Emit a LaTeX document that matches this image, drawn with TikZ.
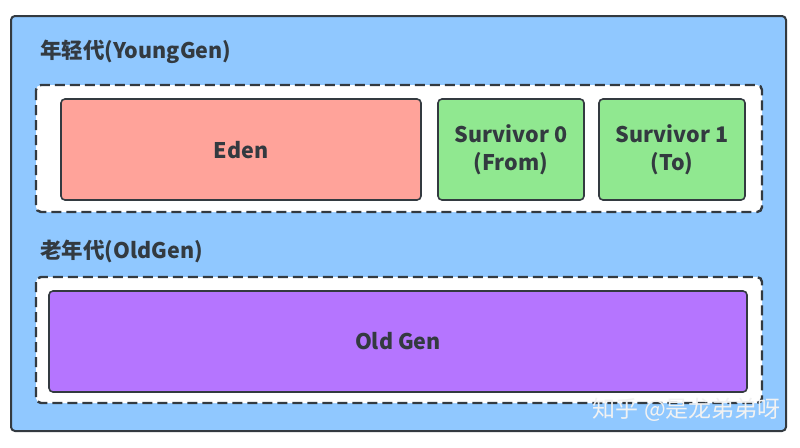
\documentclass[tikz,border=0pt]{standalone}
\usepackage{fontspec}
\setmainfont{Noto Sans CJK SC}
\definecolor{heapblue}{HTML}{90C8FF}
\definecolor{edenred}{HTML}{FFA39A}
\definecolor{survgreen}{HTML}{90E890}
\definecolor{oldpurple}{HTML}{B575FF}
\definecolor{edgegray}{HTML}{333A40}
\begin{document}
\begin{tikzpicture}[x=1pt,y=-1pt,
  genbox/.style={draw=edgegray, line width=1.6pt, rounded corners=4pt},
  areabox/.style={draw=edgegray, line width=2.4pt, dash pattern=on 10pt off 5pt, fill=white, rounded corners=5pt},
  genlabel/.style={font=\bfseries\fontsize{21.5}{24}\selectfont, text=edgegray, anchor=west, inner sep=0pt},
  celltext/.style={font=\bfseries\fontsize{21.5}{28}\selectfont, text=edgegray, align=center}]
\useasboundingbox (0,0) rectangle (800,447);
\fill[white] (0,0) rectangle (800,447);

% heap
\draw[genbox, fill=heapblue, line width=2pt] (11,16) rectangle (786,431);

% young generation
\node[genlabel] (younglbl) at (40,52) {年轻代(YoungGen)};
\draw[areabox] (36,85) rectangle (762,212);
\draw[genbox, fill=edenred] (61,99) rectangle (421,200);
\draw[genbox, fill=survgreen] (438,99) rectangle (584,200);
\draw[genbox, fill=survgreen] (599,99) rectangle (745,200);
\node[celltext] (eden) at (241,150) {Eden};
\node[celltext] (s0) at (511,150) {Survivor 0\\(From)};
\node[celltext] (s1) at (672,150) {Survivor 1\\(To)};

% old generation
\node[genlabel] (oldlbl) at (40,251) {老年代(OldGen)};
\draw[areabox] (36,277) rectangle (762,403);
\draw[genbox, fill=oldpurple] (49,291) rectangle (747,392);
\node[celltext] (old) at (398,341) {Old Gen};

% watermark
\node[font=\fontsize{23}{24}\selectfont, text=white!90!gray, anchor=east, inner sep=0pt] (mark) at (781,410) {知乎 @是龙弟弟呀};
\end{tikzpicture}
\end{document}
